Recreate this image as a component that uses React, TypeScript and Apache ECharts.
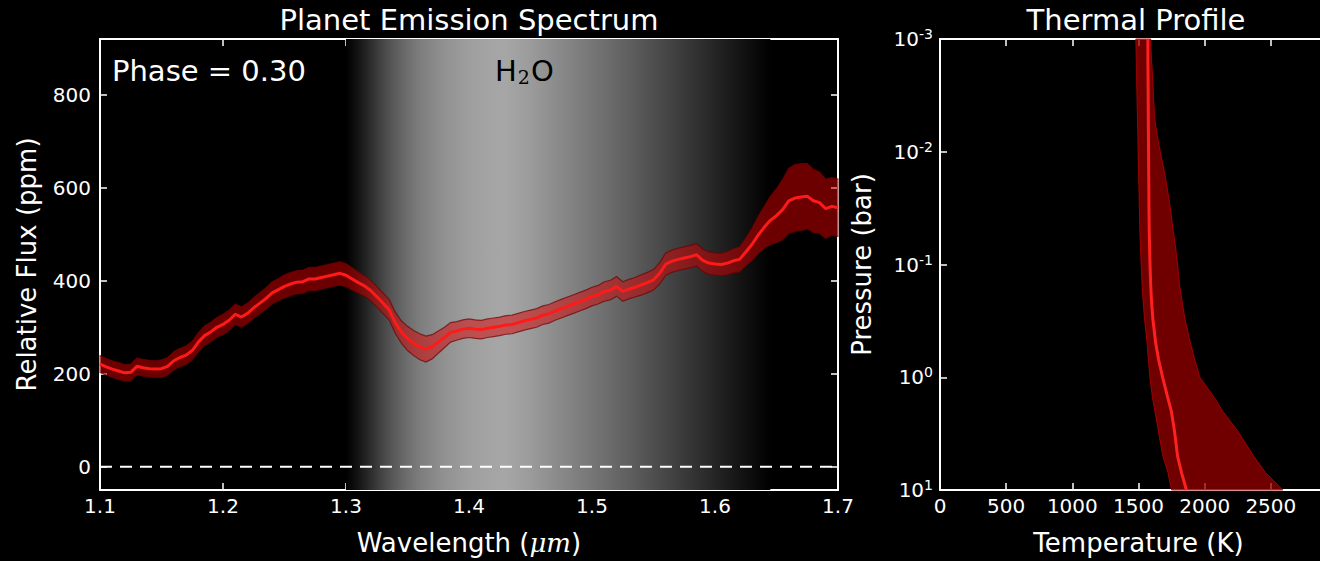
import { useEffect, useRef } from "react";
import * as echarts from "echarts";

// Emission spectrum: wavelength (µm), median relative flux (ppm) and error half-width (ppm)
const wavelength = [
  1.1, 1.105, 1.11, 1.115, 1.12, 1.125, 1.13, 1.135, 1.14, 1.145, 1.15, 1.155, 1.16, 1.165, 1.17, 1.175,
  1.18, 1.185, 1.19, 1.195, 1.2, 1.205, 1.21, 1.215, 1.22, 1.225, 1.23, 1.235, 1.24, 1.245, 1.25, 1.255,
  1.26, 1.265, 1.27, 1.275, 1.28, 1.285, 1.29, 1.295, 1.3, 1.305, 1.31, 1.315, 1.32, 1.325, 1.33, 1.335,
  1.34, 1.345, 1.35, 1.355, 1.36, 1.365, 1.37, 1.375, 1.38, 1.385, 1.39, 1.395, 1.4, 1.405, 1.41, 1.415,
  1.42, 1.425, 1.43, 1.435, 1.44, 1.445, 1.45, 1.455, 1.46, 1.465, 1.47, 1.475, 1.48, 1.485, 1.49, 1.495,
  1.5, 1.505, 1.51, 1.515, 1.52, 1.525, 1.53, 1.535, 1.54, 1.545, 1.55, 1.555, 1.56, 1.565, 1.57, 1.575,
  1.58, 1.585, 1.59, 1.595, 1.6, 1.605, 1.61, 1.615, 1.62, 1.625, 1.63, 1.635, 1.64, 1.645, 1.65, 1.655,
  1.66, 1.665, 1.67, 1.675, 1.68, 1.685, 1.69, 1.695, 1.7,
];
const flux = [
  221, 215, 210, 206, 202, 203, 216, 213, 211, 210, 211, 216, 228, 235, 240, 250,
  268, 282, 290, 300, 306, 315, 328, 322, 330, 342, 352, 362, 374, 381, 388, 393,
  397, 398, 404, 404, 407, 410, 413, 416, 412, 404, 396, 389, 379, 366, 352, 338,
  310, 290, 276, 266, 258, 253, 258, 268, 278, 289, 292, 296, 298, 296, 295, 298,
  300, 302, 305, 306, 310, 314, 317, 320, 326, 329, 335, 340, 345, 350, 355, 360,
  366, 370, 377, 380, 388, 377, 382, 386, 391, 396, 402, 416, 436, 442, 446, 449,
  452, 456, 444, 438, 436, 435, 438, 443, 446, 462, 478, 498, 515, 530, 540, 553,
  572, 578, 580, 582, 572, 568, 555, 560, 557,
];
const fluxErr = [
  18, 18, 18, 18, 18, 18, 18, 18, 18, 18, 19, 19, 20, 20, 20, 20,
  21, 21, 21, 21, 22, 22, 22, 22, 22, 22, 23, 23, 24, 24, 25, 25,
  25, 25, 25, 25, 25, 25, 25, 25, 25, 24, 23, 22, 22, 22, 22, 22,
  23, 24, 26, 27, 28, 28, 26, 24, 22, 21, 20, 20, 20, 20, 20, 20,
  20, 20, 20, 20, 20, 20, 20, 20, 20, 20, 20, 20, 20, 20, 20, 20,
  20, 20, 21, 21, 21, 21, 21, 21, 22, 22, 22, 23, 24, 24, 24, 24,
  24, 24, 24, 24, 24, 24, 25, 26, 27, 30, 35, 40, 45, 52, 58, 65,
  70, 72, 72, 70, 68, 66, 64, 62, 62,
];
const wavelengthTicks = [1.1, 1.2, 1.3, 1.4, 1.5, 1.6, 1.7];
const fluxTicks = [0, 200, 400, 600, 800];
const zeroLine = [
  [1.1, 0],
  [1.7, 0],
];
// H2O absorption window shaded behind the spectrum
const waterBand = [1.3, 1.645];

// Thermal profile: pressure (bar), median temperature and envelope (K)
const pressure = [
  0.001, 0.0015, 0.002, 0.003, 0.005, 0.007, 0.01, 0.015, 0.02, 0.03, 0.05, 0.07, 0.1,
  0.15, 0.2, 0.3, 0.5, 0.7, 1, 1.5, 2, 3, 5, 7, 10,
];
const tempMedian = [
  1571, 1571, 1572, 1573, 1574, 1575, 1576, 1577, 1578, 1579, 1581, 1584, 1587,
  1592, 1597, 1608, 1630, 1652, 1682, 1720, 1748, 1772, 1795, 1825, 1862,
];
const tempLow = [
  1480, 1483, 1485, 1488, 1492, 1495, 1497, 1500, 1503, 1506, 1510, 1515, 1520,
  1527, 1533, 1545, 1565, 1575, 1586, 1605, 1624, 1650, 1684, 1722, 1750,
];
const tempHigh = [
  1592, 1598, 1605, 1612, 1622, 1640, 1665, 1695, 1714, 1738, 1762, 1780, 1795,
  1810, 1826, 1850, 1893, 1925, 1964, 2070, 2137, 2250, 2370, 2460, 2590,
];
const tempTicks = [0, 500, 1000, 1500, 2000, 2500, 3000];
const tempLabels = [0, 500, 1000, 1500, 2000, 2500];

const FONT = "DejaVu Sans";
const WHITE = "#ffffff";

const tickStyle = { show: true, inside: true, length: 7, lineStyle: { color: WHITE, width: 1.5 } };
const lineStyle = { show: true, onZero: false, lineStyle: { color: WHITE, width: 2 } };
const labelStyle = { color: WHITE, fontSize: 20, fontFamily: FONT };
const nameStyle = { color: WHITE, fontSize: 26, fontFamily: FONT };

function bandPolygon(xs: number[], lo: number[], hi: number[], horizontal: boolean) {
  return (params: any, api: any) => {
    if (params.dataIndex !== 0) return null;
    const upper = xs.map((x, i) => api.coord(horizontal ? [x, hi[i]] : [hi[i], x]));
    const lower = xs.map((x, i) => api.coord(horizontal ? [x, lo[i]] : [lo[i], x])).reverse();
    return { points: upper.concat(lower) };
  };
}

export default function App() {
  const ref = useRef<HTMLDivElement>(null);

  useEffect(() => {
    if (!ref.current) return;
    const chart = echarts.init(ref.current, undefined, { renderer: "svg" });

    const specLow = flux.map((v, i) => v - fluxErr[i]);
    const specHigh = flux.map((v, i) => v + fluxErr[i]);
    const specBand = bandPolygon(wavelength, specLow, specHigh, true);
    const thermBand = bandPolygon(pressure, tempLow, tempHigh, false);

    const gradStops = [
      [0, 0], [0.029, 20], [0.058, 45], [0.087, 70], [0.116, 92], [0.145, 110], [0.174, 125],
      [0.232, 145], [0.29, 158], [0.348, 165], [0.377, 166], [0.435, 155], [0.493, 140],
      [0.58, 118], [0.667, 95], [0.754, 70], [0.841, 45], [0.928, 20], [1, 0],
    ].map(([o, g]) => ({ offset: o, color: `rgb(${g},${g},${g})` }));

    chart.setOption({
      animation: false,
      backgroundColor: "#000000",
      grid: [
        { left: 100, top: 39, width: 738, height: 453 },
        { left: 940, top: 39, width: 397, height: 453 },
      ],
      xAxis: [
        {
          type: "value", gridIndex: 0, position: "bottom", min: 1.1, max: 1.7,
          axisLine: lineStyle,
          axisTick: { ...tickStyle, customValues: wavelengthTicks },
          axisLabel: { ...labelStyle, margin: 6, customValues: wavelengthTicks, formatter: (v: number) => v.toFixed(1) },
          splitLine: { show: false },
          name: "{a|Wavelength (}{b|μm}{a|)}",
          nameLocation: "middle", nameGap: 40,
          nameTextStyle: {
            rich: {
              a: nameStyle,
              b: { color: WHITE, fontSize: 26, fontFamily: "DejaVu Serif", fontStyle: "italic" },
            },
          },
        },
        {
          type: "value", gridIndex: 0, position: "top", min: 1.1, max: 1.7,
          axisLine: lineStyle,
          axisTick: { ...tickStyle, customValues: wavelengthTicks },
          axisLabel: { show: false, customValues: wavelengthTicks },
          splitLine: { show: false },
        },
        {
          type: "value", gridIndex: 1, position: "bottom", min: 0, max: 3000,
          axisLine: lineStyle,
          axisTick: { ...tickStyle, customValues: tempTicks },
          axisLabel: { ...labelStyle, margin: 6, customValues: tempLabels, formatter: (v: number) => String(v) },
          splitLine: { show: false },
          name: "Temperature (K)",
          nameLocation: "middle", nameGap: 40,
          nameTextStyle: nameStyle,
        },
        {
          type: "value", gridIndex: 1, position: "top", min: 0, max: 3000,
          axisLine: lineStyle,
          axisTick: { ...tickStyle, customValues: tempTicks },
          axisLabel: { show: false, customValues: tempLabels },
          splitLine: { show: false },
        },
      ],
      yAxis: [
        {
          type: "value", gridIndex: 0, position: "left", min: -50, max: 920,
          axisLine: lineStyle,
          axisTick: { ...tickStyle, customValues: fluxTicks },
          axisLabel: { ...labelStyle, margin: 9, customValues: fluxTicks },
          splitLine: { show: false },
          name: "Relative Flux (ppm)",
          nameLocation: "middle", nameGap: 60,
          nameTextStyle: nameStyle,
        },
        {
          type: "value", gridIndex: 0, position: "right", min: -50, max: 920,
          axisLine: lineStyle,
          axisTick: { ...tickStyle, customValues: fluxTicks },
          axisLabel: { show: false, customValues: fluxTicks },
          splitLine: { show: false },
        },
        {
          type: "log", logBase: 10, gridIndex: 1, position: "left", min: 0.001, max: 10, inverse: true,
          axisLine: lineStyle,
          axisTick: tickStyle,
          axisLabel: {
            margin: 7,
            formatter: (v: number) => `{b|10}{s|${Math.round(Math.log10(v))}}`,
            rich: {
              b: { ...labelStyle, lineHeight: 24 },
              s: { color: WHITE, fontSize: 14, fontFamily: FONT, verticalAlign: "top", lineHeight: 16 },
            },
          },
          splitLine: { show: false },
          name: "Pressure (bar)",
          nameLocation: "middle", nameGap: 65,
          nameTextStyle: nameStyle,
        },
      ],
      graphic: [
        {
          type: "text", x: 469, y: 20,
          style: { text: "Planet Emission Spectrum", fill: WHITE, fontSize: 29, fontFamily: FONT, align: "center", verticalAlign: "middle" },
        },
        {
          type: "text", x: 1136, y: 20,
          style: { text: "Thermal Profile", fill: WHITE, fontSize: 29, fontFamily: FONT, align: "center", verticalAlign: "middle" },
        },
        {
          type: "text", x: 112, y: 71, z: 10,
          style: { text: "Phase = 0.30", fill: WHITE, fontSize: 29, fontFamily: FONT, align: "left", verticalAlign: "middle" },
        },
        {
          type: "text", x: 495, y: 71, z: 10,
          style: {
            text: "{n|H}{s|2}{n|O}",
            align: "left", verticalAlign: "middle",
            rich: {
              n: { fill: "#000000", fontSize: 29, fontFamily: FONT },
              s: { fill: "#000000", fontSize: 19, fontFamily: "DejaVu Serif", padding: [12, 1, 0, 1] },
            },
          },
        },
      ],
      series: [
        {
          type: "line", xAxisIndex: 0, yAxisIndex: 0, z: 1,
          data: zeroLine, showSymbol: false, silent: true,
          lineStyle: { color: WHITE, width: 2, type: [12, 8] },
          markArea: {
            silent: true,
            itemStyle: { color: new echarts.graphic.LinearGradient(0, 0, 1, 0, gradStops) },
            data: [[{ xAxis: waterBand[0] }, { xAxis: waterBand[1] }]],
          },
        },
        {
          type: "custom", xAxisIndex: 0, yAxisIndex: 0, z: 3, silent: true,
          data: wavelength.map((w, i) => [w, flux[i]]),
          renderItem: (params: any, api: any) => {
            const shape = specBand(params, api);
            if (!shape) return null;
            return {
              type: "polygon", shape,
              style: { fill: "rgba(215,0,0,0.5)", stroke: "rgba(110,0,0,0.7)", lineWidth: 1.2 },
            };
          },
        },
        {
          type: "line", xAxisIndex: 0, yAxisIndex: 0, z: 4,
          data: wavelength.map((w, i) => [w, flux[i]]),
          showSymbol: false, silent: true,
          lineStyle: { color: "#ff1a1a", width: 3 },
        },
        {
          type: "custom", xAxisIndex: 2, yAxisIndex: 2, z: 3, silent: true,
          data: pressure.map((p, i) => [tempMedian[i], p]),
          renderItem: (params: any, api: any) => {
            const shape = thermBand(params, api);
            if (!shape) return null;
            return {
              type: "polygon", shape,
              style: { fill: "rgba(150,0,0,0.75)", stroke: "rgba(170,0,0,0.9)", lineWidth: 1 },
            };
          },
        },
        {
          type: "line", xAxisIndex: 2, yAxisIndex: 2, z: 4,
          data: pressure.map((p, i) => [tempMedian[i], p]),
          showSymbol: false, silent: true,
          lineStyle: { color: "#ff2020", width: 3 },
        },
      ],
    });

    return () => chart.dispose();
  }, []);

  // The right-hand panel runs past the window edge, so the canvas is wider than its clipping frame.
  return (
    <div style={{ position: "absolute", left: 0, top: 0, width: 1320, height: 561, overflow: "hidden" }}>
      <div ref={ref} style={{ width: 1345, height: 561 }} />
    </div>
  );
}
